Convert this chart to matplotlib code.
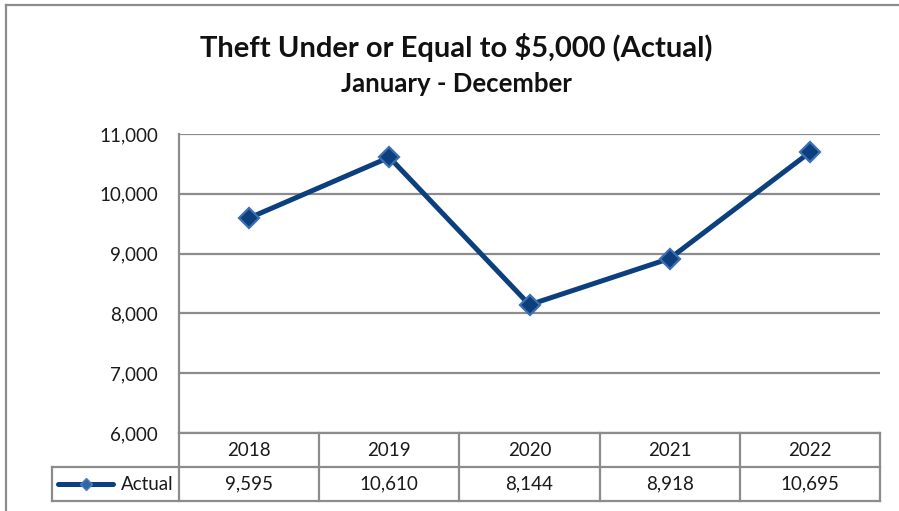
import matplotlib
matplotlib.use("Agg")
import matplotlib.pyplot as plt
from matplotlib.lines import Line2D

years = ["2018", "2019", "2020", "2021", "2022"]
actual = [9595, 10610, 8144, 8918, 10695]
yticks = [6000, 7000, 8000, 9000, 10000, 11000]
series_name = "Actual"
title = "Theft Under or Equal to $5,000 (Actual)"
subtitle = "January - December"

plt.rcParams['font.family'] = ['Lato', 'DejaVu Sans']

W, H = 899, 511
fig = plt.figure(figsize=(W/100, H/100), dpi=100)
grid_c = '#8c8c8c'
line_c = '#0b3f7e'
txt_c = '#1a1a1a'
fs = 13.5

def fx(px): return px / W
def fy(py): return 1 - py / H

# outer frame
fig.add_artist(Line2D([fx(6), fx(6)], [fy(511), fy(5)], color=grid_c, lw=1.6))
fig.add_artist(Line2D([fx(6), fx(899)], [fy(5), fy(5)], color=grid_c, lw=1.6))

L, R, T, B = 179, 880, 134, 433
ax = fig.add_axes([fx(L), fy(B), fx(R) - fx(L), fy(T) - fy(B)])
x = list(range(len(years)))
ax.plot(x, actual, color=line_c, lw=3.6, marker='D', markersize=10.5,
        markerfacecolor='#0b3f7e', markeredgecolor='#3b6fb0', markeredgewidth=1.6,
        zorder=5, clip_on=False)
ax.set_xlim(-0.5, len(years) - 0.5)
ax.set_ylim(yticks[0], yticks[-1])
ax.set_yticks(yticks)
ax.set_yticklabels([f"{v:,}" for v in yticks], fontsize=fs, color=txt_c)
ax.tick_params(axis='y', length=0, pad=15)
ax.set_xticks([])
for s in ['top', 'right', 'bottom']:
    ax.spines[s].set_visible(False)
ax.spines['left'].set_color(grid_c)
ax.spines['left'].set_linewidth(1.6)
ax.grid(axis='y', color=grid_c, lw=1.6)
ax.set_axisbelow(True)

# data table
r1, r2, r3 = 433, 467, 501
col_edges = [L + (R - L) * i / len(years) for i in range(len(years) + 1)]
lk = dict(color=grid_c, lw=1.6)
fig.add_artist(Line2D([fx(L), fx(R)], [fy(r1), fy(r1)], **lk))
fig.add_artist(Line2D([fx(52), fx(R)], [fy(r2), fy(r2)], **lk))
fig.add_artist(Line2D([fx(52), fx(R)], [fy(r3), fy(r3)], **lk))
fig.add_artist(Line2D([fx(52), fx(52)], [fy(r2), fy(r3)], **lk))
for ce in col_edges:
    fig.add_artist(Line2D([fx(ce), fx(ce)], [fy(r1), fy(r3)], **lk))
for i, (yr, v) in enumerate(zip(years, actual)):
    cx = (col_edges[i] + col_edges[i + 1]) / 2
    fig.text(fx(cx), fy((r1 + r2) / 2), yr, ha='center', va='center', fontsize=fs, color=txt_c)
    fig.text(fx(cx), fy((r2 + r3) / 2), f"{v:,}", ha='center', va='center', fontsize=fs, color=txt_c)
# legend key
ym = fy((r2 + r3) / 2)
fig.add_artist(Line2D([fx(58), fx(113)], [ym, ym], color=line_c, lw=3.6, solid_capstyle='round'))
fig.add_artist(Line2D([fx(86)], [ym], color=line_c, marker='D', markersize=6,
                      markerfacecolor='#2f66a8', markeredgecolor='#4d80bf', markeredgewidth=1))
fig.text(fx(174), ym, series_name, ha='right', va='center', fontsize=fs, color=txt_c)

fig.text(fx(456), fy(48), title, ha='center', va='center', fontsize=21, fontweight='bold', color='#111111')
fig.text(fx(456), fy(84), subtitle, ha='center', va='center', fontsize=18.5, fontweight='bold', color='#111111')

fig.savefig("out.png", dpi=100)
